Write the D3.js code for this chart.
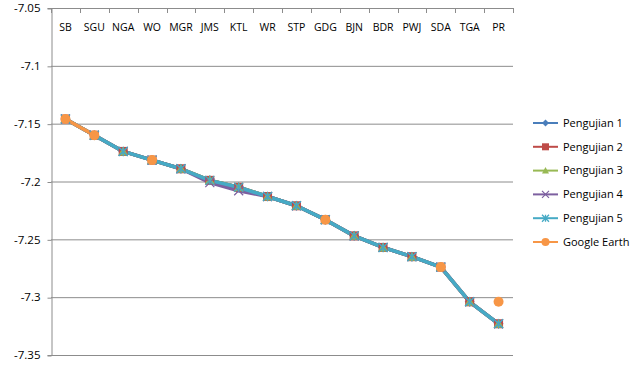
<!DOCTYPE html>
<html><head><meta charset="utf-8">
<script src="https://cdn.jsdelivr.net/npm/d3@7"></script>
<style>body{margin:0;background:#fff}svg{display:block}text{font-family:"Open Sans","Noto Sans",sans-serif;fill:#000}</style>
</head><body><svg id="c" width="631" height="365"></svg>
<script>
const categories = ["SB","SGU","NGA","WO","MGR","JMS","KTL","WR","STP","GDG","BJN","BDR","PWJ","SDA","TGA","PR"];
const pengujian1 = [-7.146,-7.160,-7.174,-7.1815,-7.189,-7.199,-7.205,-7.213,-7.221,-7.233,-7.247,-7.257,-7.265,-7.274,-7.304,-7.323];
const pengujian2 = [-7.146,-7.160,-7.174,-7.1815,-7.189,-7.199,-7.205,-7.213,-7.221,-7.233,-7.247,-7.257,-7.265,-7.274,-7.304,-7.323];
const pengujian3 = [-7.146,-7.160,-7.174,-7.1815,-7.189,-7.199,-7.205,-7.213,-7.221,-7.233,-7.247,-7.257,-7.265,-7.274,-7.304,-7.323];
const pengujian4 = [-7.146,-7.160,-7.174,-7.1815,-7.189,-7.201,-7.208,-7.213,-7.221,-7.233,-7.247,-7.257,-7.265,-7.274,-7.304,-7.323];
const pengujian5 = [-7.146,-7.160,-7.174,-7.1815,-7.189,-7.199,-7.205,-7.213,-7.221,-7.233,-7.247,-7.257,-7.265,-7.274,-7.304,-7.323];
const googleEarth = [-7.146,-7.160,null,-7.1815,null,null,null,null,null,-7.233,null,null,null,-7.274,null,-7.304];
const yTicks = [-7.05,-7.1,-7.15,-7.2,-7.25,-7.3,-7.35];
const seriesNames = ["Pengujian 1","Pengujian 2","Pengujian 3","Pengujian 4","Pengujian 5","Google Earth"];

const colors = ["#4A7EBB","#BE4B48","#98B954","#7D60A0","#46AAC5","#F79646"];
const markers = ["diamond","square","triangle","x","star","circle"];
const series = [pengujian1,pengujian2,pengujian3,pengujian4,pengujian5,googleEarth].map((v,i)=>({name:seriesNames[i],values:v,color:colors[i],marker:markers[i]}));

const svg = d3.select("#c");
const L = 51, R = 513, T = 8, B = 355;
const x = d3.scaleBand().domain(categories).range([L,R]);
const y = d3.scaleLinear().domain([-7.05,-7.35]).range([T,B]);

// gridlines
svg.append("g").selectAll("line").data(yTicks).join("line")
  .attr("x1",L).attr("x2",R).attr("y1",d=>y(d)+0.5).attr("y2",d=>y(d)+0.5)
  .attr("stroke","#8c8c8c").attr("stroke-width",1);

// y axis
const ya = svg.append("g").attr("transform",`translate(${L+0.5},0)`)
  .call(d3.axisLeft(y).tickValues(yTicks).tickSize(4).tickPadding(7).tickFormat(d=>String(d)));
ya.select(".domain").attr("stroke","#8c8c8c");
ya.selectAll(".tick line").attr("stroke","#8c8c8c").attr("transform","translate(0,0.5)");
ya.selectAll("text").attr("font-size","11.5px").attr("font-family","'Open Sans',sans-serif").attr("fill","#000");

// x axis at top, ticks pointing down
const xa = svg.append("g").attr("transform",`translate(0,${T+0.5})`)
  .call(d3.axisBottom(x).tickSize(0).tickPadding(15));
xa.select(".domain").remove();
xa.selectAll("text").attr("font-size","10.5px").attr("font-family","'Open Sans',sans-serif").attr("fill","#000");
const bounds = categories.map((c,i)=>L + i*x.step()).concat([R]);
svg.append("g").selectAll("line").data(bounds).join("line")
  .attr("x1",d=>Math.round(d)+0.5).attr("x2",d=>Math.round(d)+0.5).attr("y1",T).attr("y2",T+5)
  .attr("stroke","#8c8c8c");

const cx = c => x(c)+x.bandwidth()/2;
const line = d3.line().defined(d=>d.v!=null).x(d=>cx(d.c)).y(d=>y(d.v));

function drawMarker(g, type, color, s){
  if(type==="diamond") g.append("path").attr("d",`M0,${-s}L${s},0L0,${s}L${-s},0Z`).attr("fill",color);
  else if(type==="square") g.append("rect").attr("x",-s).attr("y",-s).attr("width",2*s).attr("height",2*s).attr("fill",color);
  else if(type==="triangle") g.append("path").attr("d",`M0,${-s}L${s},${s*0.8}L${-s},${s*0.8}Z`).attr("fill",color);
  else if(type==="x") g.append("path").attr("d",`M${-s},${-s}L${s},${s}M${-s},${s}L${s},${-s}`).attr("stroke",color).attr("stroke-width",1.2);
  else if(type==="star") g.append("path").attr("d",`M${-s},${-s}L${s},${s}M${-s},${s}L${s},${-s}M0,${-s}L0,${s}`).attr("stroke",color).attr("stroke-width",1.3);
  else if(type==="circle") g.append("circle").attr("r",s).attr("fill",color);
}

const data = series.map(s=>({s, pts: categories.map((c,i)=>({c,v:s.values[i]}))}));
// lines first (Excel draws all lines, then markers)
data.forEach(({s,pts})=>{
  svg.append("path").attr("d",line(pts)).attr("fill","none").attr("stroke",s.color).attr("stroke-width",3.5).attr("stroke-linejoin","round");
});
data.forEach(({s,pts})=>{
  const g = svg.append("g");
  pts.filter(d=>d.v!=null).forEach(d=>{
    const m = g.append("g").attr("transform",`translate(${cx(d.c)},${y(d.v)})`);
    const sz = {diamond:5,square:4.5,triangle:5,x:4.5,star:4.5,circle:5}[s.marker];
    drawMarker(m, s.marker, s.color, sz);
  });
});

// legend
const lg = svg.append("g");
series.forEach((s,i)=>{
  const yy = 123 + i*23.8;
  lg.append("line").attr("x1",533).attr("x2",558).attr("y1",yy).attr("y2",yy).attr("stroke",s.color).attr("stroke-width",2);
  const m = lg.append("g").attr("transform",`translate(545.5,${yy})`);
  drawMarker(m, s.marker, s.color, s.marker==="circle"?4:3.5);
  lg.append("text").attr("x",563).attr("y",yy).attr("dy","0.35em").attr("font-size","11px").text(s.name);
});
</script></body></html>
